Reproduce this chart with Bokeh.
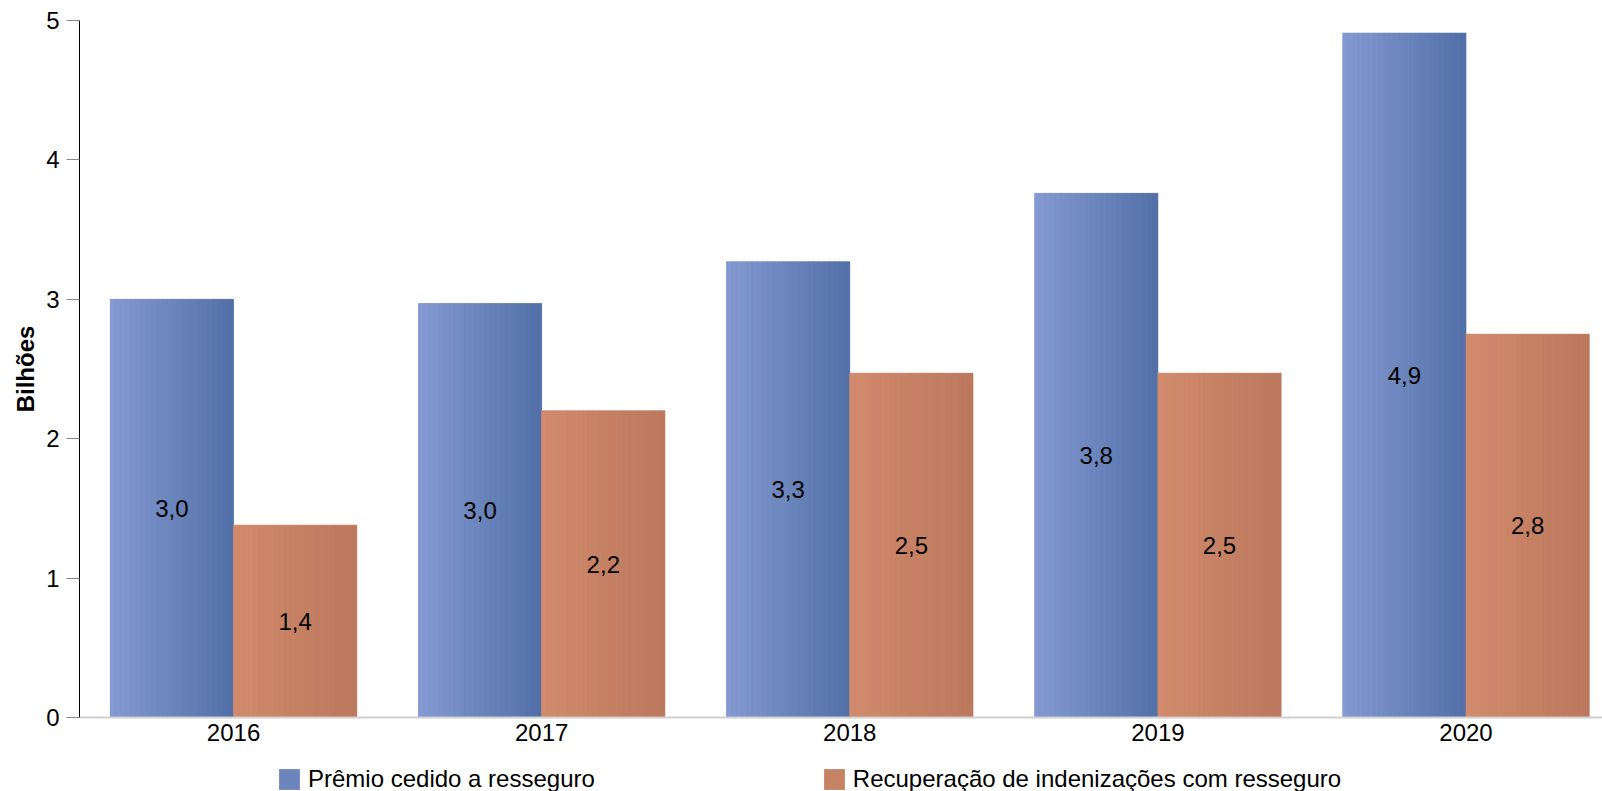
from bokeh.plotting import figure
from bokeh.layouts import column
from bokeh.models import (Range1d, FixedTicker, ColumnDataSource, Legend, LegendItem)
from bokeh.core.properties import value
from bokeh.embed import file_html
from bokeh.resources import INLINE

# ---- data ----
years = ["2016", "2017", "2018", "2019", "2020"]
premio = [3.00, 2.97, 3.27, 3.76, 4.91]
recuperacao = [1.38, 2.20, 2.47, 2.47, 2.75]
series_names = ["Prêmio cedido a resseguro", "Recuperação de indenizações com resseguro"]
y_ticks = [0, 1, 2, 3, 4, 5]

# ---- styles ----
FONT = "Liberation Sans"
FS = "24px"
blue_grad = ((0x84, 0x99, 0xD1), (0x53, 0x71, 0xA8))
orange_grad = ((0xD1, 0x8A, 0x6C), (0xBC, 0x79, 0x5E))
BW = 0.4
NSTRIP = 24

def hexc(c):
    return "#%02x%02x%02x" % tuple(int(round(v)) for v in c)

def lerp(a, b, t):
    return tuple(a[i] + (b[i] - a[i]) * t for i in range(3))

p = figure(width=1602, height=755, output_backend="svg", toolbar_location=None,
           x_range=Range1d(-0.5, 4.443), y_range=Range1d(0, 5),
           min_border_left=79, min_border_right=0, min_border_top=20, min_border_bottom=38)
p.outline_line_color = None
p.xgrid.visible = False
p.ygrid.visible = False
p.background_fill_color = "white"

# legend strip (separate figure under the chart); its ranges keep the proxy bars out of view
lf = figure(width=1602, height=36, output_backend="svg", toolbar_location=None,
            x_axis_type=None, y_axis_type=None, x_range=Range1d(-0.5, 4.443),
            y_range=Range1d(10, 11), min_border=0, min_border_left=0, min_border_right=0,
            min_border_top=0, min_border_bottom=0)
lf.outline_line_color = None
lf.xgrid.visible = False
lf.ygrid.visible = False

idx = list(range(len(years)))
lrs = []
for k, (vals, grad, off) in enumerate([(premio, blue_grad, -BW / 2), (recuperacao, orange_grad, BW / 2)]):
    xs = [i + off for i in idx]
    src = ColumnDataSource(dict(x=xs, top=vals))
    mid = hexc(lerp(grad[0], grad[1], 0.5))
    p.vbar(x="x", top="top", width=BW, bottom=0, source=src,
           fill_color=mid, line_color=None)
    lrs.append(lf.vbar(x="x", top="top", width=BW, bottom=0, source=src,
                       fill_color=mid, line_color=None))
    # gradient strips
    sx, st, sc = [], [], []
    for i, v in zip(idx, vals):
        left = i + off - BW / 2
        for s in range(NSTRIP):
            sx.append(left + (s + 0.5) * BW / NSTRIP)
            st.append(v)
            sc.append(hexc(lerp(grad[0], grad[1], s / (NSTRIP - 1))))
    ssrc = ColumnDataSource(dict(x=sx, top=st, color=sc))
    p.vbar(x="x", top="top", width=BW / NSTRIP, bottom=0, source=ssrc,
           fill_color="color", line_color="color", line_width=0.6)
    # labels
    lsrc = ColumnDataSource(dict(x=xs, y=[v / 2 for v in vals],
                                 t=[f"{v:.1f}".replace(".", ",") for v in vals]))
    p.text(x="x", y="y", text="t", source=lsrc, text_align="center", text_baseline="middle",
           text_font=value(FONT), text_font_size=FS, text_color="black")

# y axis
ya = p.yaxis[0]
ya.ticker = FixedTicker(ticks=y_ticks)
ya.minor_tick_line_color = None
ya.major_tick_in = 0
ya.major_tick_out = 13
ya.major_tick_line_color = "#888888"
ya.axis_line_color = "black"
ya.axis_line_width = 1
ya.major_label_standoff = 7
ya.major_label_text_font = FONT
ya.major_label_text_font_size = FS
ya.major_label_text_color = "black"
ya.axis_label = "Bilhões"
ya.axis_label_text_font = FONT
ya.axis_label_text_font_size = "24px"
ya.axis_label_text_font_style = "bold"
ya.axis_label_text_color = "black"
ya.axis_label_standoff = 4

# x axis
xa = p.xaxis[0]
xa.ticker = FixedTicker(ticks=idx)
xa.major_label_overrides = {i: y for i, y in zip(idx, years)}
xa.minor_tick_line_color = None
xa.major_tick_in = 0
xa.major_tick_out = 0
xa.axis_line_color = "#d0d0d0"
xa.axis_line_width = 2
xa.major_label_standoff = 6
xa.major_label_text_font = FONT
xa.major_label_text_font_size = FS
xa.major_label_text_color = "black"

lg = Legend(items=[LegendItem(label=n, renderers=[r]) for n, r in zip(series_names, lrs)],
            location=(197, -2), orientation="horizontal", padding=0, margin=0, spacing=226,
            border_line_color=None, background_fill_alpha=0,
            glyph_width=26, glyph_height=26, label_standoff=6,
            label_text_font=FONT, label_text_font_size=FS, label_text_color="black")
lf.add_layout(lg, "center")

layout = column(p, lf, spacing=0)
open("out.html", "w").write(file_html(layout, INLINE))
